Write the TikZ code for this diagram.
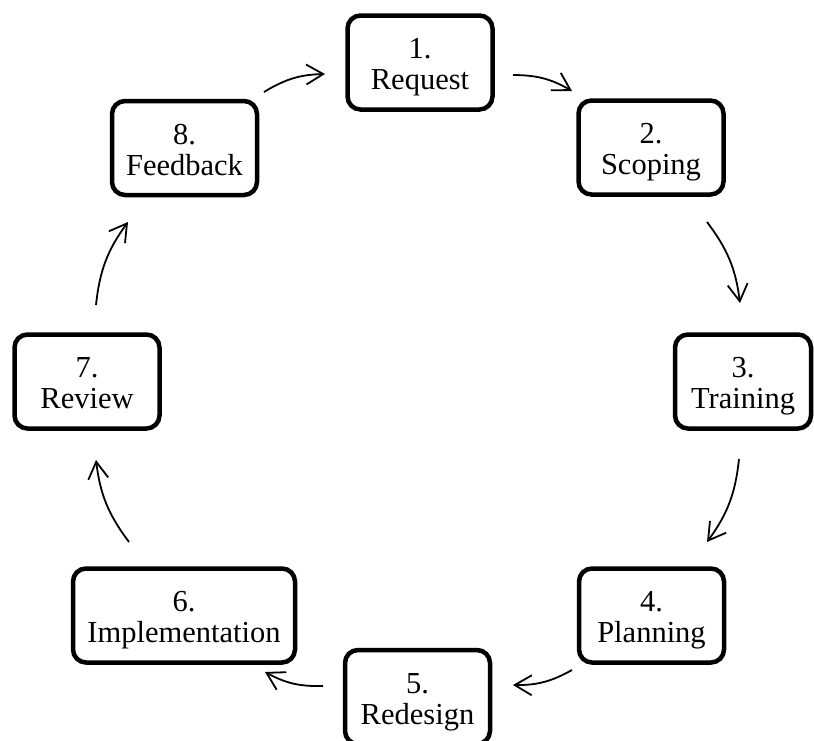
\documentclass[tikz,border=0pt]{standalone}
\usepackage{fontspec}
\setmainfont{Liberation Serif}
\usetikzlibrary{arrows.meta}
\begin{document}
\begin{tikzpicture}[x=1pt,y=-1pt,
  stage/.style={draw, line width=4.5pt, rounded corners=13pt, align=center,
    font=\fontsize{30.5}{31}\selectfont, text height=61pt, text depth=6.5pt,
    minimum width=145pt, minimum height=94pt, inner sep=0pt},
  flow/.style={line width=1.8pt, -{Straight Barb[length=17pt,width=20pt]}, bend left=15}]
\useasboundingbox (0,0) rectangle (814,740);
\clip (0,0) rectangle (814,740);

% the eight stages of the cycle
\node[stage] (s1) at (420,62.5) {1.\\Request};
\node[stage] (s2) at (651,147.5) {2.\\Scoping};
\node[stage, minimum width=136pt] (s3) at (743,381.5) {3.\\Training};
\node[stage] (s4) at (651.5,615.5) {4.\\Planning};
\node[stage] (s5) at (417.5,697) {5.\\Redesign};
\node[stage, minimum width=222pt] (s6) at (184,615.5) {6.\\Implementation};
\node[stage] (s7) at (87,381.5) {7.\\Review};
\node[stage] (s8) at (184.5,148) {8.\\Feedback};

% arrow end points between neighbouring stages
\coordinate (a12) at (513,75);   \coordinate (b12) at (572,91);
\coordinate (a23) at (707,222);  \coordinate (b23) at (740,303);
\coordinate (a34) at (739,459);  \coordinate (b34) at (707,542);
\coordinate (a45) at (572,670);  \coordinate (b45) at (513,685);
\coordinate (a56) at (323,686);  \coordinate (b56) at (265,672);
\coordinate (a67) at (129,542);  \coordinate (b67) at (96,460);
\coordinate (a78) at (96,305);   \coordinate (b78) at (128,222);
\coordinate (a81) at (264,92);   \coordinate (b81) at (325,74);

\draw[flow] (a12) to (b12);
\draw[flow] (a23) to (b23);
\draw[flow] (a34) to (b34);
\draw[flow] (a45) to (b45);
\draw[flow] (a56) to (b56);
\draw[flow] (a67) to (b67);
\draw[flow] (a78) to (b78);
\draw[flow] (a81) to (b81);
\end{tikzpicture}
\end{document}
